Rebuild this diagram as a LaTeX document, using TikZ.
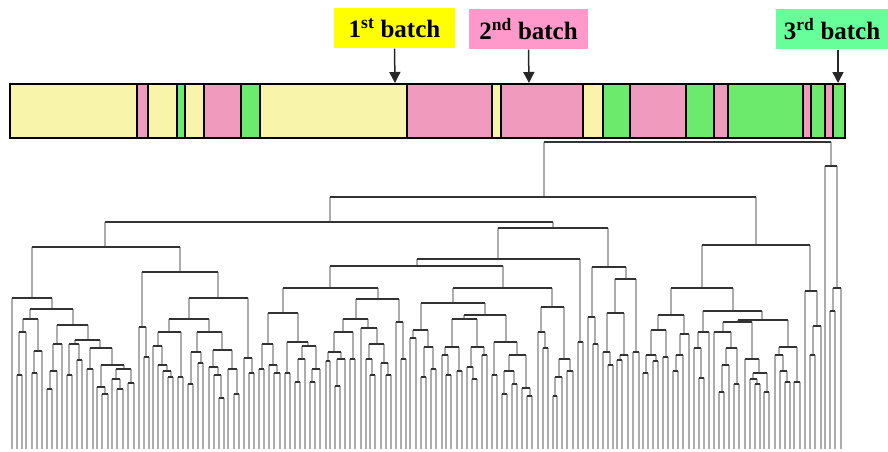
\documentclass[tikz,border=0pt]{standalone}
\usepackage{fontspec}
\setmainfont{Liberation Serif}
\usepackage{xcolor}
\usetikzlibrary{positioning,arrows.meta}

\definecolor{lotyellow}{RGB}{248,244,170}
\definecolor{lotpink}{RGB}{240,155,190}
\definecolor{lotgreen}{RGB}{108,234,108}
\definecolor{tagyellow}{RGB}{255,255,0}
\definecolor{tagpink}{RGB}{255,153,204}
\definecolor{taggreen}{RGB}{102,255,153}

% merges of the tree: left x / right x / height / bottom of left stem / bottom of right stem
\def\merges{544/831/142/197/166, 330/756/197/222/245, 105/553/222/247/228, 32/180/247/298/272,
  12/52/298/449/309, 30/73/309/319/325, 23/38/319/332/351, 19/26/332/375/449, 17/22/375/449/449,
  34/42/351/373/449, 32/37/373/449/449, 57/88/325/344/340, 53/62/344/371/449, 50/57/371/389/449,
  47/52/389/449/449, 75/100/340/344/348, 69/79/344/375/360, 67/72/375/449/449, 77/82/360/449/449,
  90/112/348/369/365, 87/93/369/449/449, 101/124/365/387/369, 97/105/387/449/394, 102/108/394/449/449,
  116/131/369/379/383, 112/120/379/449/389, 117/123/389/449/449, 128/134/383/449/449,
  142/218/272/327/298, 139/146/327/449/357, 144/149/357/449/449, 189/248/298/319/358,
  169/209/319/332/332, 158/181/332/346/377, 153/162/346/449/365, 158/167/365/449/371,
  163/171/371/449/377, 168/173/377/449/449, 178/183/377/449/449, 197/222/332/352/350,
  191/201/352/384/363, 188/193/384/449/449, 198/203/363/449/449, 213/232/350/367/369,
  209/218/367/449/375, 214/221/375/449/398, 219/224/398/449/449, 228/237/369/449/394,
  234/239/394/449/449, 244/252/358/449/373, 249/254/373/449/449,
  498/608/228/259/267, 417/580/259/266/342, 330/503/266/288/288, 283/378/288/313/299,
  268/298/313/344/342, 262/273/344/369/365, 259/264/369/449/449, 269/277/365/449/373,
  274/280/373/449/449, 287/308/342/373/346, 285/290/373/449/449, 302/316/346/359/369,
  298/305/359/382/449, 295/300/382/449/449, 312/320/369/382/449, 310/315/382/449/449,
  356/399/299/319/322, 343/368/319/332/328, 334/353/332/352/359, 328/341/352/361/359,
  326/330/361/449/449, 337/345/359/386/449, 335/340/386/449/449, 350/355/359/449/449,
  361/377/328/449/344, 369/384/344/359/363, 366/372/359/449/375, 370/375/375/449/449,
  381/388/363/449/375, 386/391/375/449/449, 396/403/322/449/359, 401/406/359/449/449,
  453/552/288/303/307, 421/485/303/330/315, 413/428/330/338/347, 410/416/338/449/449,
  424/433/347/377/369, 421/426/377/449/449, 431/436/369/449/449, 464/506/315/319/342,
  452/477/319/347/347, 445/459/347/355/371, 442/448/355/449/375, 446/451/375/449/449,
  457/462/371/449/449, 471/484/347/367/355, 467/473/367/449/379, 472/477/379/449/449,
  482/487/355/449/449, 494/517/342/375/355, 492/497/375/449/449, 509/526/355/371/388,
  504/514/371/394/384, 502/507/394/449/449, 512/517/384/449/449, 522/530/388/449/396,
  527/532/396/449/449, 541/564/307/332/359, 538/545/332/449/348, 543/548/348/449/449,
  559/570/359/377/371, 555/562/377/396/449, 553/557/396/449/449, 567/573/371/449/449,
  578/583/342/449/449,
  592/626/267/317/279, 588/595/317/449/344, 593/598/344/449/449, 615/636/279/313/352,
  607/624/313/352/355, 603/610/352/449/365, 608/613/365/449/449, 620/628/355/360/449,
  617/622/360/449/449, 633/639/352/449/449,
  702/810/245/288/291, 671/733/288/315/311, 658/684/315/330/334, 651/666/330/355/357,
  646/656/355/373/361, 643/648/373/449/449, 653/658/361/449/449, 663/668/357/449/449,
  680/689/334/355/449, 676/683/355/371/449, 673/678/371/449/449, 703/762/311/332/320,
  698/709/332/348/449, 694/701/348/449/378, 699/704/378/449/449, 738/788/320/322/347,
  723/752/322/332/359, 714/731/332/449/348, 726/737/348/365/384, 722/729/365/392/449,
  719/724/392/449/449, 734/739/384/449/449, 745/759/359/449/373, 753/767/373/379/392,
  750/757/379/449/384, 755/760/384/449/449, 764/769/392/449/449, 779/797/347/355/382,
  775/783/355/449/371, 780/787/371/449/382, 785/790/382/449/449, 794/800/382/449/449,
  805/817/291/449/326, 813/821/326/355/449, 810/815/355/449/449,
  825/837/166/449/288, 833/841/288/311/449, 830/835/311/449/449}

\begin{document}
\begin{tikzpicture}[
      x=1pt, y=-1pt,
      font=\fontsize{25}{28}\selectfont\bfseries,
      batch/.style={minimum height=40pt, inner sep=0pt},
      arrow/.style={-{Triangle[length=11pt,width=11pt]}, line width=1.5pt, black!85},
      lot/.style={draw=black, line width=1.2pt},
      link/.style={line width=2.8pt, black!80},
      stem/.style={line width=1.2pt, black!32}
    ]
    \useasboundingbox (0,0) rectangle (888,452);

    % batch labels
    \node[batch, fill=tagyellow, minimum width=121pt] (first)  at (394.5,28.5) {1\textsuperscript{st} batch};
    \node[batch, fill=tagpink,   minimum width=119pt] (second) at (528.5,29.5) {2\textsuperscript{nd} batch};
    \node[batch, fill=taggreen,  minimum width=112pt] (third)  at (832,29.5)   {3\textsuperscript{rd} batch};

    \coordinate (tip1) at (395,83);
    \coordinate (tip2) at (529,83);
    \coordinate (tip3) at (838,83);

    % lots along the order of the tree
    \foreach \a/\b/\c in {10/137/lotyellow, 137/148/lotpink, 148/177/lotyellow, 177/185/lotgreen,
        185/204/lotyellow, 204/241/lotpink, 241/260/lotgreen, 260/407/lotyellow, 407/492/lotpink,
        492/501/lotyellow, 501/583/lotpink, 583/603/lotyellow, 603/630/lotgreen, 630/686/lotpink,
        686/714/lotgreen, 714/728/lotpink, 728/803/lotgreen, 803/811/lotpink, 811/825/lotgreen,
        825/833/lotpink, 833/845/lotgreen}
      \draw[lot, fill=\c] (\a,84) rectangle (\b,138);

    \draw[arrow] (first.south) -- (tip1);
    \draw[arrow] (second.south) -- (tip2);
    \draw[arrow] (third.south -| tip3) -- (tip3);

    % dendrogram
    \foreach \a/\b/\h/\l/\r in \merges {
      \draw[stem] (\a,\h) -- (\a,\l);
      \draw[stem] (\b,\h) -- (\b,\r);
    }
    \foreach \a/\b/\h/\l/\r in \merges
      \draw[link] (\a,\h) -- (\b,\h);
  \end{tikzpicture}
\end{document}
